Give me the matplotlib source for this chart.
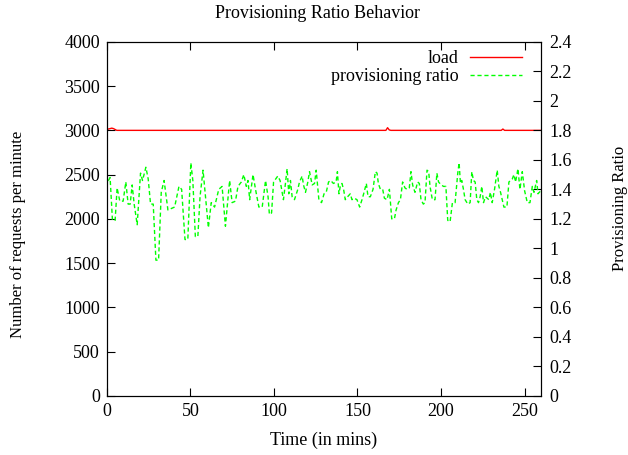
import matplotlib
matplotlib.use("Agg")
import matplotlib.pyplot as plt
from matplotlib.ticker import FormatStrFormatter

plt.rcParams['font.family'] = ['Liberation Serif', 'DejaVu Serif']
plt.rcParams['font.size'] = 13

# load (requests per minute), left axis
load_t = [0, 1, 3, 4, 6, 8, 167, 168, 169, 170, 236, 237, 238, 260]
load = [3010, 3015, 3025, 3020, 3000, 3000, 3000, 3030, 3005, 3000, 3000, 3015, 3000, 3000]

# provisioning ratio, right axis
ratio_t = [0, 0.3, 1, 2, 3.4, 5, 6.2, 7.8, 9.8, 11.4, 12.8, 14, 15.2, 16.4, 18.2,
           20.2, 21.4, 23.4, 24.8, 26.2, 27.8, 29.4, 31.0, 32.6, 34.3, 36.6, 38.6,
           40.6, 43.2, 44.8, 46.8, 48.5, 50.3, 51.5, 53.0, 54.5, 55.8, 57.6, 59.5,
           60.8, 62.5, 64.5, 67.0, 69.0, 71.0, 73.5, 75.0, 77.0, 78.5, 80.5, 82.0,
           83.5, 84.5, 85.5, 87.5, 89.0, 91.0, 93.0, 95.0, 96.5, 97.3, 98.6, 99.8,
           102.3, 103.7, 105.7, 106.9, 107.9, 108.9, 109.9, 110.9, 112.3, 114.3,
           115.3, 116.9, 117.7, 118.9, 120.3, 121.3, 122.9, 124.3, 125.3, 126.9,
           128.5, 130.0, 131.3, 132.7, 134.0, 135.6, 137.2, 138.0, 138.9, 139.7,
           140.7, 141.7, 142.7, 144.1, 145.7, 146.7, 148.1, 149.7, 151.3, 152.7,
           153.7, 155.3, 156.3, 157.7, 159.3, 160.7, 161.7, 162.5, 163.7, 165.1,
           166.1, 167.7, 169.1, 170.5, 172.1, 173.1, 174.5, 175.7, 177.0, 178.4,
           179.6, 181.0, 182.0, 183.0, 184.4, 186.0, 187.0, 188.0, 189.4, 190.4,
           191.6, 192.6, 193.4, 194.8, 196.4, 197.5, 198.5, 200.1, 201.5, 202.9,
           204.0, 205.4, 206.8, 208.4, 210.0, 210.8, 211.6, 212.4, 213.4, 214.4,
           216.0, 217.4, 218.4, 219.4, 220.4, 221.4, 222.4, 223.4, 224.4, 225.4,
           226.6, 228.6, 229.5, 230.6, 232.0, 233.6, 234.6, 235.6, 237.6, 239.4,
           240.6, 242.6, 243.6, 244.6, 246.0, 247.2, 248.6, 250.0, 251.6, 253.2,
           254.6, 255.6, 257.2, 258.0, 259.6]
ratio = [2.40, 1.47, 1.46, 1.48, 1.19, 1.19, 1.41, 1.32, 1.32, 1.45, 1.30, 1.30, 1.43, 1.30, 1.16,
         1.51, 1.46, 1.55, 1.47, 1.30, 1.30, 0.92, 0.92, 1.38, 1.46, 1.26, 1.27,
         1.28, 1.42, 1.40, 1.06, 1.06, 1.58, 1.46, 1.08, 1.08, 1.35, 1.53, 1.30,
         1.14, 1.31, 1.28, 1.40, 1.42, 1.15, 1.46, 1.31, 1.32, 1.42, 1.45, 1.50,
         1.42, 1.46, 1.33, 1.50, 1.40, 1.28, 1.28, 1.46, 1.35, 1.23, 1.24, 1.45,
         1.49, 1.46, 1.33, 1.44, 1.54, 1.37, 1.46, 1.35, 1.33, 1.40,
         1.45, 1.49, 1.43, 1.38, 1.45, 1.52, 1.43, 1.44, 1.53, 1.33,
         1.31, 1.37, 1.38, 1.45, 1.46, 1.44, 1.45, 1.52, 1.37, 1.42,
         1.44, 1.40, 1.33, 1.35, 1.37, 1.33, 1.34, 1.33, 1.28, 1.33,
         1.37, 1.44, 1.35, 1.35, 1.40, 1.52, 1.51, 1.44, 1.40, 1.40,
         1.34, 1.33, 1.40, 1.20, 1.20, 1.26, 1.31, 1.33, 1.45, 1.41,
         1.40, 1.41, 1.52, 1.43, 1.38, 1.45, 1.44, 1.33, 1.30, 1.31,
         1.53, 1.52, 1.42, 1.33, 1.33, 1.51, 1.45, 1.43, 1.42, 1.42,
         1.19, 1.18, 1.31, 1.31, 1.51, 1.58, 1.44, 1.46, 1.40, 1.33,
         1.30, 1.31, 1.52, 1.46, 1.45, 1.33, 1.31, 1.35, 1.42, 1.31,
         1.35, 1.33, 1.38, 1.31, 1.40, 1.53, 1.42, 1.38, 1.28, 1.28,
         1.45, 1.47, 1.50, 1.45, 1.54, 1.40, 1.52, 1.39, 1.31, 1.31,
         1.42, 1.38, 1.46, 1.37, 1.39]

fig = plt.figure(figsize=(6.28, 4.55), dpi=100)
ax = fig.add_axes([0.170, 0.130, 0.692, 0.778])
ax2 = ax.twinx()

l1, = ax.plot(load_t, load, color='#ff0000', lw=1.0, label='load')
l2, = ax2.plot(ratio_t, ratio, color='#00ff00', lw=1.0, ls=(0, (3, 2)), label='provisioning ratio')

ax.set_xlim(0, 260)
ax.set_ylim(0, 4000)
ax2.set_ylim(0, 2.4)
ax.set_xticks(range(0, 251, 50))
ax.set_yticks(range(0, 4001, 500))
ax2.set_yticks([i * 0.2 for i in range(13)])
ax2.yaxis.set_major_formatter(FormatStrFormatter('%g'))

ax.tick_params(direction='in', length=6, top=True, right=False, width=0.8, pad=5)
ax2.tick_params(direction='in', length=6, width=0.8, pad=6)
for a in (ax, ax2):
    for s in a.spines.values():
        s.set_linewidth(0.8)

fig.text(0.505, 1 - 13 / 455, 'Provisioning Ratio Behavior', ha='center', va='center', fontsize=13)
ax.set_xlabel('Time (in mins)')
ax.xaxis.set_label_coords(0.5, -0.102)
ax.set_ylabel('Number of requests per minute', va='center', fontsize=12)
ax.yaxis.set_label_coords(-0.205, 0.455)
ax2.set_ylabel('Provisioning Ratio', va='center', rotation=90, fontsize=12)
ax2.yaxis.set_label_coords(1.182, 0.53)

ax2.legend(handles=[l1, l2], loc='upper right', frameon=False, markerfirst=False,
           handlelength=2.9, borderaxespad=0, borderpad=0, labelspacing=0.05,
           handletextpad=0.6, bbox_to_anchor=(0.956, 0.977))

fig.savefig('out.png', dpi=100)
